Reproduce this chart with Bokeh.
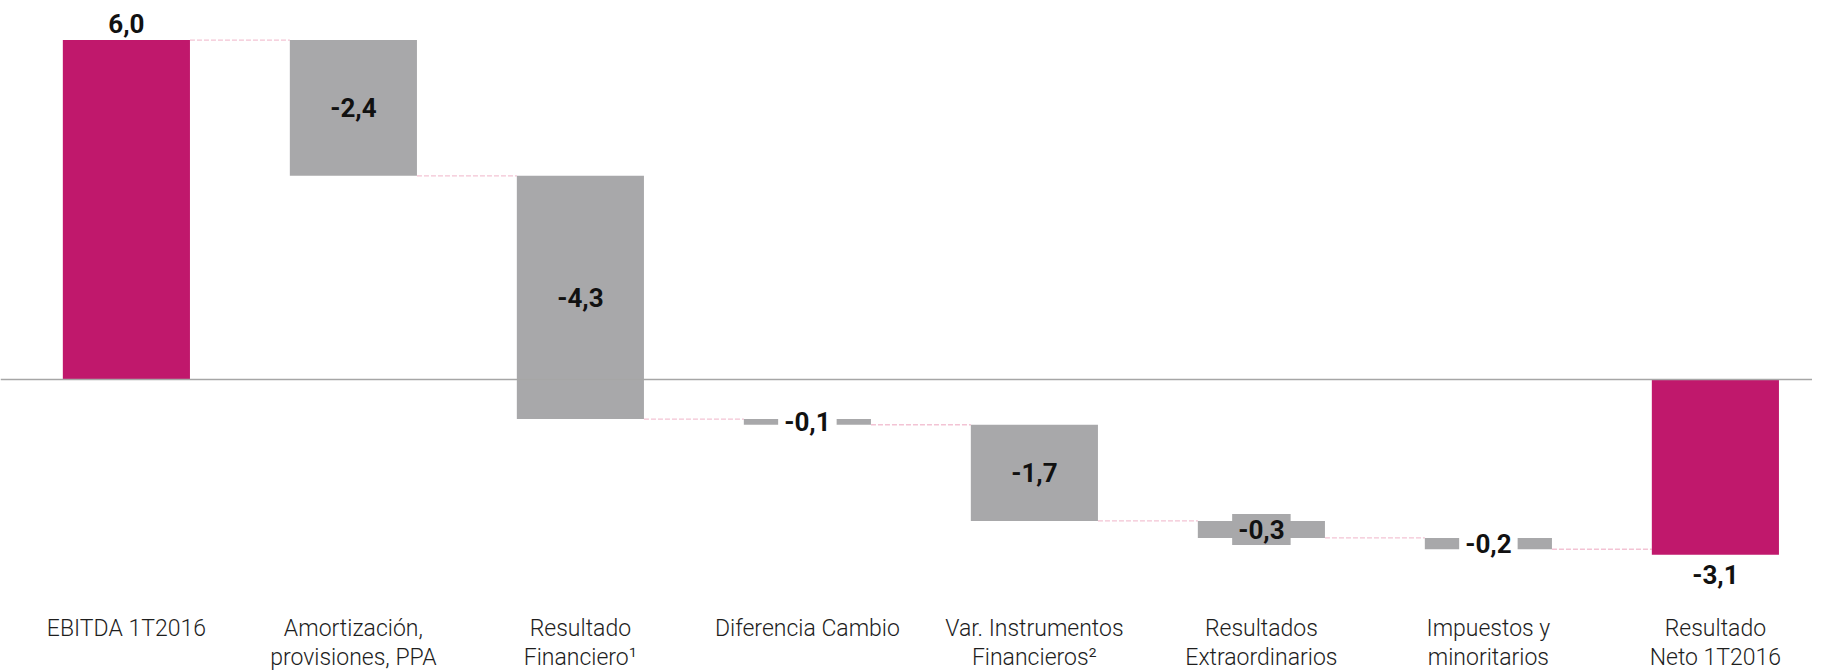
from bokeh.plotting import figure
from bokeh.models import Range1d, Span, Label, FixedTicker
from bokeh.embed import file_html
from bokeh.resources import INLINE

# ---- data ----
categories = [
    "EBITDA 1T2016",
    "Amortización,\nprovisiones, PPA",
    "Resultado\nFinanciero¹",
    "Diferencia Cambio",
    "Var. Instrumentos\nFinancieros²",
    "Resultados\nExtraordinarios",
    "Impuestos y\nminoritarios",
    "Resultado\nNeto 1T2016",
]
values = [6.0, -2.4, -4.3, -0.1, -1.7, -0.3, -0.2, -3.1]
is_total = [True, False, False, False, False, False, False, True]

# ---- styles ----
PINK = "#c0186c"
GRAY = "#a8a8aa"
label_bg = [None, None, None, "white", None, GRAY, "white", None]
BAR_W = 0.56

# ---- waterfall geometry from data ----
xs = list(range(len(values)))
bottoms, tops, ends = [], [], []
running = 0.0
for v, tot in zip(values, is_total):
    if tot:
        start, end = 0.0, v
    else:
        start, end = running, running + v
    running = end
    bottoms.append(min(start, end))
    tops.append(max(start, end))
    ends.append(end)
colors = [PINK if t else GRAY for t in is_total]

p = figure(
    frame_width=1812, frame_height=590,
    x_range=Range1d(-0.5546, 7.4278), y_range=Range1d(-3.730, 6.6996),
    output_backend="svg", toolbar_location=None, min_border=0,
)
p.outline_line_color = None
p.grid.visible = False
p.yaxis.visible = False
p.background_fill_color = "white"
p.border_fill_color = "white"

# zero line
p.add_layout(Span(location=0, dimension="width", line_color="#a6a6a6", line_width=1.5))

# connectors
cx0 = [x + BAR_W / 2 for x in xs[:-1]]
cx1 = [x + 1 - BAR_W / 2 for x in xs[:-1]]
p.segment(x0=cx0, y0=ends[:-1], x1=cx1, y1=ends[:-1],
          line_color="#f3c3d4", line_width=1.4, line_dash="5 2")

# bars
p.vbar(x=xs, width=BAR_W, bottom=bottoms, top=tops, fill_color=colors, line_color=None)

# value labels
for x, v, b, t, tot, bg in zip(xs, values, bottoms, tops, is_total, label_bg):
    txt = f"{v:.1f}".replace(".", ",")
    common = dict(x=x, text=txt, text_align="center", text_font="Roboto",
                  text_font_style="bold", text_font_size="26px", text_color="#111111")
    if tot and v >= 0:
        lab = Label(y=t, y_offset=7, text_baseline="bottom", **common)
    elif tot:
        lab = Label(y=b, y_offset=-10, text_baseline="top", **common)
    else:
        lab = Label(y=(b + t) / 2, text_baseline="middle", **common)
        if bg is not None:
            lab.background_fill_color = bg
            lab.padding = 6
    p.add_layout(lab)

# category axis
ax = p.xaxis[0]
ax.ticker = FixedTicker(ticks=xs)
ax.major_label_overrides = {x: c for x, c in zip(xs, categories)}
ax.axis_line_color = None
ax.major_tick_line_color = None
ax.minor_tick_line_color = None
ax.major_tick_out = 0
ax.major_label_standoff = 24
ax.major_label_text_font = "Roboto Light"
ax.major_label_text_font_size = "23px"
ax.major_label_text_color = "#1e1e1e"
ax.major_label_text_line_height = 1.1

open("out.html", "w").write(file_html(p, INLINE))
